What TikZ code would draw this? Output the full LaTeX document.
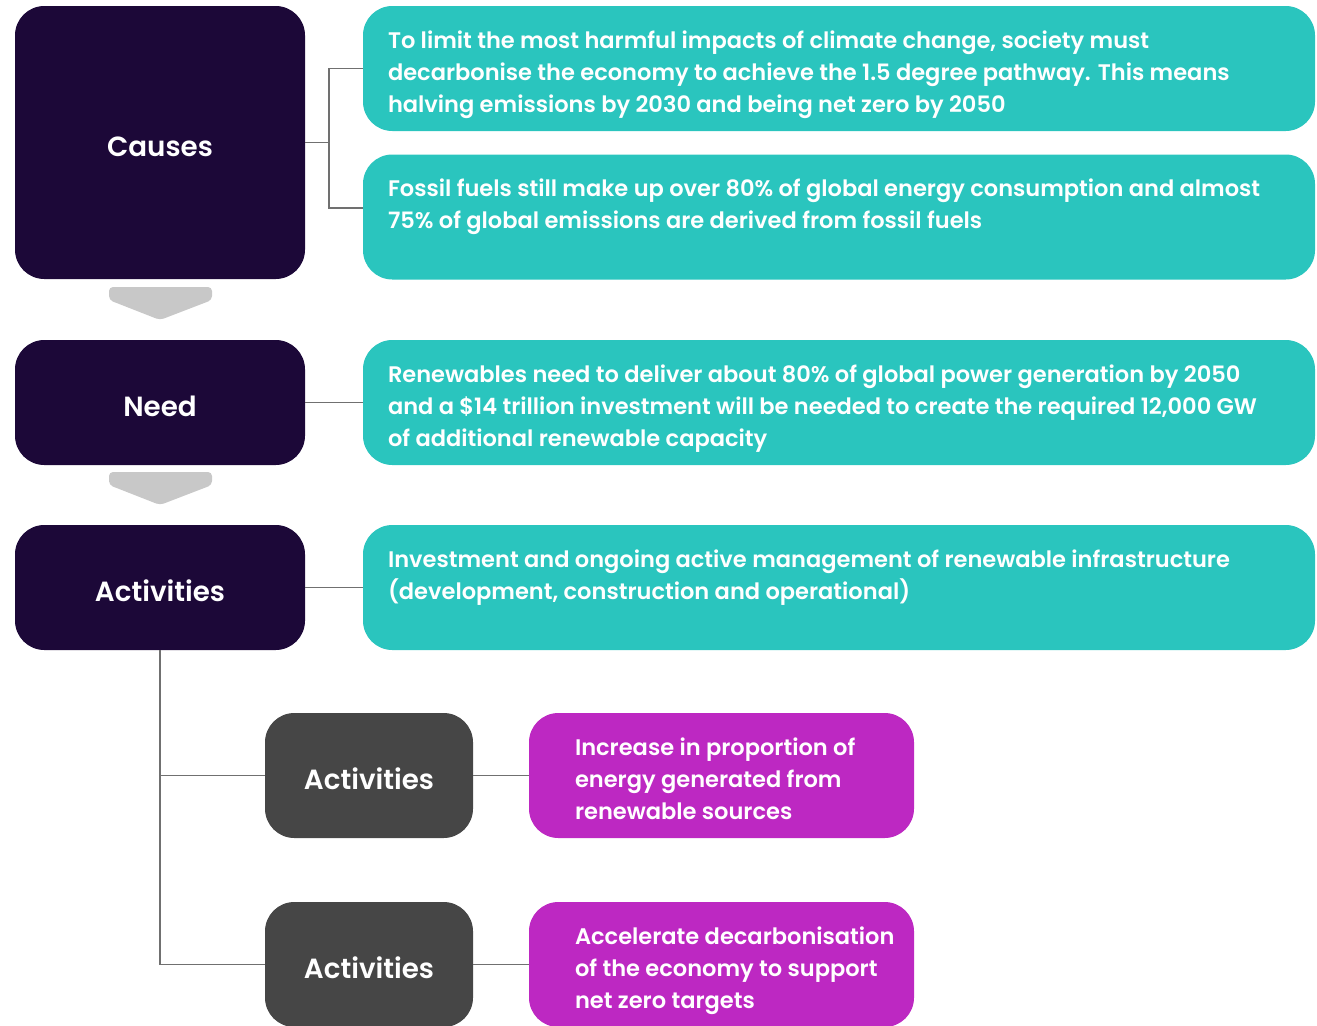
\documentclass[tikz,border=0pt]{standalone}
\usepackage{fontspec}
\setmainfont{Poppins}[BoldFont={Poppins SemiBold}]
\usetikzlibrary{calc}
\definecolor{darkp}{HTML}{1C0838}
\definecolor{tealc}{HTML}{2AC5BE}
\definecolor{grayb}{HTML}{464646}
\definecolor{magc}{HTML}{BD28C2}
\definecolor{chev}{HTML}{C8C8C8}
\definecolor{connc}{HTML}{707070}
\begin{document}
\begin{tikzpicture}[x=0.75pt,y=-0.75pt,
  box/.style={rounded corners=22pt, inner sep=0pt, draw=none},
  mainbox/.style={box, fill=darkp, minimum width=290*0.75pt},
  infobox/.style={box, fill=tealc, minimum width=952*0.75pt, minimum height=125*0.75pt},
  subbox/.style={box, fill=grayb, minimum width=208*0.75pt, minimum height=125*0.75pt},
  resbox/.style={box, fill=magc, minimum width=385*0.75pt, minimum height=125*0.75pt},
  title/.style={text=white, font=\bfseries\fontsize{20.8}{24}\selectfont, text height=20.5pt, text depth=0pt},
  body/.style={text=white, align=left, anchor=north west, inner sep=0pt, font=\bfseries\fontsize{16.9}{24}\selectfont},
  conn/.style={draw=connc, line width=0.9pt},
  chevron/.style={fill=chev, draw=none}
]
\useasboundingbox (0,0) rectangle (1317,1025);

% main column
\node[mainbox, minimum height=273*0.75pt, title] (causes) at (160,142.5) {Causes};
\node[mainbox, minimum height=125*0.75pt, title] (need) at (160,402.5) {Need};
\node[mainbox, minimum height=125*0.75pt, title] (act) at (160,587.5) {Activities};

% chevrons
\fill[chevron, rounded corners=3pt] (109,287) -- (212,287) -- (212,300) -- (160,320) -- (109,300) -- cycle;
\fill[chevron, rounded corners=3pt] (109,472) -- (212,472) -- (212,485) -- (160,505) -- (109,485) -- cycle;

% teal boxes
\node[infobox] (t1) at (839,68.5) {};
\node[infobox] (t2) at (839,217) {};
\node[infobox] (t3) at (839,402.5) {};
\node[infobox] (t4) at (839,587.5) {};

\node[body] (t1txt) at ($(t1.north west)+(25,19.6)$) {\strut To limit the most harmful impacts of climate change, society must\\decarbonise the economy to achieve the 1.5 degree pathway. This means\\halving emissions by 2030 and being net zero by 2050};
\node[body] (t2txt) at ($(t2.north west)+(25,19.6)$) {\strut Fossil fuels still make up over 80\% of global energy consumption and almost\\75\% of global emissions are derived from fossil fuels};
\node[body] (t3txt) at ($(t3.north west)+(25,19.6)$) {\strut Renewables need to deliver about 80\% of global power generation by 2050\\and a \$14 trillion investment will be needed to create the required 12,000 GW\\of additional renewable capacity};
\node[body] (t4txt) at ($(t4.north west)+(25,19.6)$) {\strut Investment and ongoing active management of renewable infrastructure\\(development, construction and operational)};

% sub activities
\node[subbox, title] (g1) at (369,775.5) {Activities};
\node[subbox, title] (g2) at (369,964.5) {Activities};
\node[resbox] (m1) at (721.5,775.5) {};
\node[resbox] (m2) at (721.5,964.5) {};
\node[body] (m1txt) at ($(m1.north west)+(46,19.6)$) {\strut Increase in proportion of\\energy generated from\\renewable sources};
\node[body] (m2txt) at ($(m2.north west)+(46,19.6)$) {\strut Accelerate decarbonisation\\of the economy to support\\net zero targets};

% connectors
\coordinate (j1) at (329,142.5);
\draw[conn] (causes.east) -- (j1);
\draw[conn] (j1) |- (t1.west);
\draw[conn] (j1) |- ($(t2.west)+(0,-9)$);
\draw[conn] (need.east) -- (t3.west);
\draw[conn] (act.east) -- (t4.west);
\draw[conn] (act.south) |- (g1.west);
\draw[conn] (act.south) |- (g2.west);
\draw[conn] (g1.east) -- (m1.west);
\draw[conn] (g2.east) -- (m2.west);
\end{tikzpicture}
\end{document}
